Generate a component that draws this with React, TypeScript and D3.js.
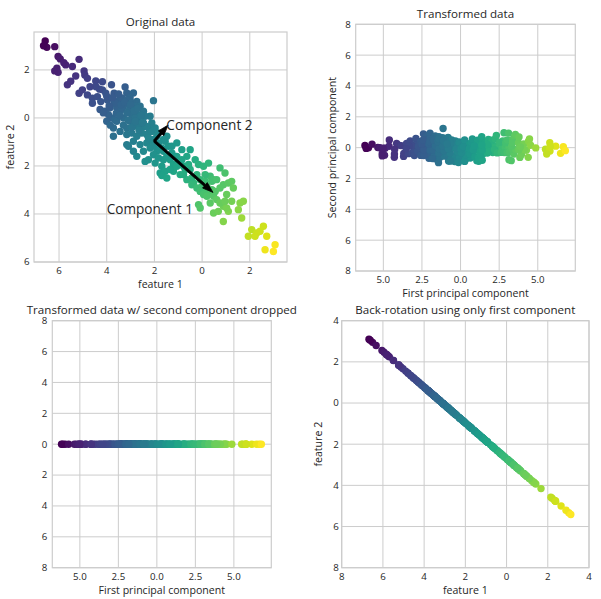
import React from 'react';
import * as d3 from 'd3';

const feature1 = [
  -6.58, -6.51, -6.65, -6.18, -6.04, -5.95, -5.72, -6.09, -6.04, -6.18,
  -5.44, -5.16, -4.95, -4.92, -4.81, -5.65, -5.51, -5.16, -5.02, -4.46,
  -4.18, -3.80, -4.81, -4.60, -4.39, -4.18, -4.04, -3.69, -4.60, -4.25,
  -3.97, -3.69, -4.28, -4.07, -3.86, -3.79, -3.72, -3.72, -4.00, -3.65,
  -3.58, -3.48, -3.23, -3.16, -2.88, -3.37, -3.02, -2.74, -2.60, -2.04,
  -3.30, -3.02, -2.88, -2.67, -2.46, -2.18, -3.58, -3.30, -3.02, -2.74,
  -3.44, -3.16, -2.53, -3.16, -2.88, -2.60, -2.88, -2.46, -2.46, -2.53,
  -2.32, -2.25, -1.90, -1.69, -1.55, -1.76, -1.97, -1.62, -3.37, -3.16,
  -2.95, -3.09, -2.95, -2.81, -2.88, -2.67, -3.16, -3.09, -2.95, -2.74,
  -2.32, -2.25, -2.11, -1.97, -1.83, -2.74, -2.39, -2.11, -1.97, -1.76,
  -1.62, -2.04, -1.83, -1.69, -1.55, -1.69, -3.65, -3.93, -4.14, -2.11,
  -1.90, -2.18, -1.48, -1.41, -1.27, -1.06, -0.85, -1.13, -1.34, -1.20,
  -0.99, -1.48, -1.20, -0.92, -1.34, -1.06, -0.78, -0.50, -0.22, -0.64,
  -0.50, -0.29, -0.15, 0.06, 0.27, -0.64, -0.36, -0.08, -0.71, -0.57,
  -0.78, -0.43, -0.43, -0.22, -0.01, 0.13, 0.20, 0.27, 0.34, 0.48,
  0.13, 0.06, 0.41, -0.08, 0.06, 0.20, -0.15, -0.08, 0.34, 0.41,
  0.48, 0.61, 0.55, 0.48, 0.68, 0.61, 0.75, 0.96, 0.89, 1.10,
  1.24, 0.75, 1.03, 0.89, 1.10, 1.24, 1.59, 1.52, 1.73, 1.66,
  0.89, 1.03, 1.31, 0.75, 0.96, 2.08, 2.29, 2.57, 2.22, 2.71,
  3.06, 2.64, 2.99, 1.94, 2.43, -2.60, -2.39, -2.81, -2.32, -2.25,
  -2.04, -1.83, -1.62, -1.48, -1.27, -1.06, -0.85,
  -4.30, -4.00, -3.90, -3.75, -3.60, -3.50, -3.45, -3.40, -3.30, -3.25,
  -3.15, -3.10, -3.00, -2.95, -2.85, -2.80, -2.70, -2.65, -2.55, -2.50,
  -4.45, -4.70, -5.30, -5.80, -3.85,
];
const feature2 = [
  3.21, 2.94, 3.01, 2.97, 2.56, 2.46, 2.21, 2.07, 1.90, 1.96,
  2.14, 2.44, 1.96, 1.79, 1.65, 1.38, 1.53, 1.03, 1.17, 1.54,
  1.51, 1.38, 0.96, 0.82, 0.89, 1.17, 1.03, 1.03, 0.61, 0.68,
  0.75, 0.61, 0.35, 0.28, 0.42, 0.00, -0.42, -0.76, -0.14, -0.07,
  0.42, 0.75, 1.29, 1.04, 1.04, 0.83, 0.83, 0.69, 0.49, 0.72,
  0.49, 0.42, 0.28, 0.14, 0.28, 0.07, -0.14, 0.00, -0.14, -0.14,
  -0.56, -0.42, -0.42, -1.11, -0.97, -1.11, -1.39, -1.39, -0.21, -0.63,
  -1.04, -1.74, -1.39, -1.25, -0.97, -2.29, -1.88, -1.74, 0.35, 0.76,
  0.63, 0.28, 0.14, 0.00, -0.35, -0.28, -0.69, -1.18, -0.63, -0.76,
  -0.69, -0.42, -0.56, -0.42, -0.63, -1.60, -1.81, -0.90, -1.18, -1.32,
  -0.90, -1.53, -1.67, -2.01, -2.22, -2.40, 0.63, 0.14, 0.21, -0.21,
  -0.76, -1.25, -0.76, -1.18, -1.18, -1.04, -1.32, -1.60, -1.74, -1.94,
  -1.81, -2.50, -2.22, -2.36, -2.15, -1.60, -2.01, -2.15, -2.36, -1.60,
  -1.32, -1.74, -1.94, -2.01, -1.88, -2.57, -2.71, -2.57, -2.15, -1.94,
  -2.36, -2.50, -2.78, -2.92, -2.85, -2.64, -2.85, -3.06, -2.43, -2.57,
  -2.36, -3.06, -2.99, -3.06, -3.19, -3.26, -3.61, -3.75, -3.54, -2.64,
  -3.26, -3.40, -3.06, -3.96, -3.89, -2.57, -2.08, -2.29, -2.78, -2.71,
  -2.64, -2.92, -3.19, -3.68, -3.89, -3.47, -3.54, -3.82, -3.47, -4.17,
  -4.31, -3.75, -2.92, -3.54, -3.47, -4.65, -4.79, -4.51, -4.93, -4.93,
  -5.28, -5.49, -5.56, -4.93, -4.72, 0.07, 0.07, 0.49, -0.35, -0.83,
  -1.04, -1.04, -1.39, -1.60, -1.46, -2.01, -1.74,
  1.20, 0.90, 0.50, 0.85, 0.20, 1.00, 0.10, 0.55, -0.30, 0.65,
  0.20, -0.10, 0.55, -0.40, 0.30, -0.15, 0.40, -0.50, 0.10, -0.20,
  1.30, 1.30, 1.75, 2.30, -0.30,
];

// Tick values
const origTicks = [-6, -4, -2, 0, 2];
const pcXTicks = [-5, -2.5, 0, 2.5, 5];
const pcYTicks = [-8, -6, -4, -2, 0, 2, 4, 6, 8];
const backTicks = [-8, -6, -4, -2, 0, 2, 4];

const FONT = "'Open Sans', 'Noto Sans', sans-serif";
const TEXT = '#262626';
const GRID = '#cccccc';

// PCA of the original data (as in the chart's construction)
function computePCA(xs: number[], ys: number[]) {
  const n = xs.length;
  const mx = d3.mean(xs) as number;
  const my = d3.mean(ys) as number;
  let sxx = 0, syy = 0, sxy = 0;
  for (let i = 0; i < n; i++) {
    const dx = xs[i] - mx, dy = ys[i] - my;
    sxx += dx * dx; syy += dy * dy; sxy += dx * dy;
  }
  sxx /= n - 1; syy /= n - 1; sxy /= n - 1;
  const tr = sxx + syy, det = sxx * syy - sxy * sxy;
  const l1 = tr / 2 + Math.sqrt(tr * tr / 4 - det);
  let v1 = [l1 - syy, sxy];
  const nv = Math.hypot(v1[0], v1[1]);
  v1 = [v1[0] / nv, v1[1] / nv];
  if (v1[0] < 0) v1 = [-v1[0], -v1[1]];
  let v2 = [-v1[1], v1[0]];
  if (v2[1] < 0) v2 = [-v2[0], -v2[1]];
  const pc1 = xs.map((x, i) => (x - mx) * v1[0] + (ys[i] - my) * v1[1]);
  const pc2 = xs.map((x, i) => (x - mx) * v2[0] + (ys[i] - my) * v2[1]);
  const s1 = Math.sqrt(d3.mean(pc1.map((v) => v * v)) as number);
  const s2 = Math.sqrt(d3.mean(pc2.map((v) => v * v)) as number);
  return { mx, my, v1, v2, pc1, pc2, s1, s2 };
}

type Box = { l: number; r: number; t: number; b: number };

interface PanelProps {
  box: Box;
  xDomain: [number, number];
  yDomain: [number, number];
  xTicks: number[];
  yTicks: number[];
  xFmt: (v: number) => string;
  yFmt: (v: number) => string;
  title: string;
  xlabel: string;
  ylabel?: string;
  xs: number[];
  ys: number[];
  colors: string[];
  yTickPad?: number;
  children?: (x: d3.ScaleLinear<number, number>, y: d3.ScaleLinear<number, number>) => React.ReactNode;
}

function Panel(p: PanelProps) {
  const x = d3.scaleLinear().domain(p.xDomain).range([p.box.l, p.box.r]);
  const y = d3.scaleLinear().domain(p.yDomain).range([p.box.b, p.box.t]);
  const cx = (p.box.l + p.box.r) / 2;
  const cy = (p.box.t + p.box.b) / 2;
  const pad = p.yTickPad ?? 5;
  const clipId = 'clip' + Math.round(p.box.l) + '_' + Math.round(p.box.t);
  return (
    <g>
      <defs>
        <clipPath id={clipId}>
          <rect x={p.box.l} y={p.box.t} width={p.box.r - p.box.l} height={p.box.b - p.box.t} />
        </clipPath>
      </defs>
      <rect x={p.box.l} y={p.box.t} width={p.box.r - p.box.l} height={p.box.b - p.box.t} fill="#fff" />
      {p.xTicks.map((t) => (
        <line key={'gx' + t} x1={x(t)} x2={x(t)} y1={p.box.t} y2={p.box.b} stroke={GRID} strokeWidth={1} />
      ))}
      {p.yTicks.map((t) => (
        <line key={'gy' + t} x1={p.box.l} x2={p.box.r} y1={y(t)} y2={y(t)} stroke={GRID} strokeWidth={1} />
      ))}
      <g clipPath={`url(#${clipId})`}>
        {p.xs.map((v, i) => (
          <circle key={i} cx={x(v)} cy={y(p.ys[i])} r={3.7} fill={p.colors[i]} />
        ))}
        {p.children ? p.children(x, y) : null}
      </g>
      <rect x={p.box.l} y={p.box.t} width={p.box.r - p.box.l} height={p.box.b - p.box.t} fill="none" stroke={GRID} strokeWidth={1.2} />
      {p.xTicks.map((t) => (
        <text key={'tx' + t} x={x(t)} y={p.box.b + 12} textAnchor="middle" fontSize={9.7} fill={TEXT}>
          {p.xFmt(t)}
        </text>
      ))}
      {p.yTicks.map((t) => (
        <text key={'ty' + t} x={p.box.l - pad} y={y(t)} dy="0.35em" textAnchor="end" fontSize={9.7} fill={TEXT}>
          {p.yFmt(t)}
        </text>
      ))}
      <text x={cx} y={p.box.t - 6.5} textAnchor="middle" fontSize={11.6} fill={TEXT}>{p.title}</text>
      <text x={cx} y={p.box.b + 26} textAnchor="middle" fontSize={10.6} fill={TEXT}>{p.xlabel}</text>
      {p.ylabel ? (
        <text transform={`translate(${p.box.l - 20},${cy}) rotate(-90)`} textAnchor="middle" fontSize={10.6} fill={TEXT}>
          {p.ylabel}
        </text>
      ) : null}
    </g>
  );
}

function arrowPath(
  x: d3.ScaleLinear<number, number>,
  y: d3.ScaleLinear<number, number>,
  x0: number, y0: number, dx: number, dy: number,
) {
  const width = 0.1, hw = 0.3, hl = 0.45;
  const dist = Math.hypot(dx, dy);
  const len = dist + hl;
  const ux = dx / dist, uy = dy / dist;
  const px = -uy, py = ux;
  const tipX = x0 + ux * len, tipY = y0 + uy * len;
  const baseX = tipX - ux * hl, baseY = tipY - uy * hl;
  const pts: [number, number][] = [
    [x0 + px * width / 2, y0 + py * width / 2],
    [baseX + px * width / 2, baseY + py * width / 2],
    [baseX + px * hw / 2, baseY + py * hw / 2],
    [tipX, tipY],
    [baseX - px * hw / 2, baseY - py * hw / 2],
    [baseX - px * width / 2, baseY - py * width / 2],
    [x0 - px * width / 2, y0 - py * width / 2],
  ];
  const line = d3.line<[number, number]>().x((d) => x(d[0])).y((d) => y(d[1]));
  return line(pts) + 'Z';
}

export default function App() {
  const p = computePCA(feature1, feature2);
  const color = d3.scaleSequential(d3.interpolateViridis).domain(d3.extent(p.pc1) as [number, number]);
  const colors = p.pc1.map((v) => color(v));
  const zeros = p.pc1.map(() => 0);
  const invX = p.pc1.map((v) => p.mx + v * p.v1[0]);
  const invY = p.pc1.map((v) => p.my + v * p.v1[1]);
  const intFmt = (v: number) => String(Math.abs(v));
  const decFmt = (v: number) => Math.abs(v).toFixed(1);

  return (
    <svg width={601} height={599} style={{ position: 'absolute', left: 0, top: 0, fontFamily: FONT }}>
      <rect width={601} height={599} fill="#fff" />
      <Panel
        box={{ l: 34, r: 287, t: 32, b: 262 }}
        xDomain={[-7.05, 3.56]}
        yDomain={[-6.0, 3.58]}
        xTicks={origTicks}
        yTicks={origTicks}
        xFmt={intFmt}
        yFmt={intFmt}
        title="Original data"
        xlabel="feature 1"
        ylabel="feature 2"
        xs={feature1}
        ys={feature2}
        colors={colors}
        yTickPad={4.5}
      >
        {(x, y) => (
          <g>
            <path d={arrowPath(x, y, p.mx, p.my, p.s1 * p.v1[0], p.s1 * p.v1[1])} fill="#000" stroke="#000" strokeWidth={0.8} />
            <path d={arrowPath(x, y, p.mx, p.my, p.s2 * p.v2[0], p.s2 * p.v2[1])} fill="#000" stroke="#000" strokeWidth={0.8} />
            <text x={x(-1.5)} y={y(-0.5)} fontSize={13.6} fill={TEXT}>Component 2</text>
            <text x={x(-4)} y={y(-4)} fontSize={13.6} fill={TEXT}>Component 1</text>
          </g>
        )}
      </Panel>
      <Panel
        box={{ l: 355.7, r: 575.3, t: 24.3, b: 271 }}
        xDomain={[-6.79, 7.43]}
        yDomain={[-8, 8]}
        xTicks={pcXTicks}
        yTicks={pcYTicks}
        xFmt={decFmt}
        yFmt={intFmt}
        title="Transformed data"
        xlabel="First principal component"
        ylabel="Second principal component"
        xs={p.pc1}
        ys={p.pc2}
        colors={colors}
      />
      <Panel
        box={{ l: 52.3, r: 271.3, t: 320.7, b: 567.7 }}
        xDomain={[-6.79, 7.43]}
        yDomain={[-8, 8]}
        xTicks={pcXTicks}
        yTicks={pcYTicks}
        xFmt={decFmt}
        yFmt={intFmt}
        title="Transformed data w/ second component dropped"
        xlabel="First principal component"
        xs={p.pc1}
        ys={zeros}
        colors={colors}
      />
      <Panel
        box={{ l: 341.7, r: 589, t: 320.7, b: 567.7 }}
        xDomain={[-8, 4]}
        yDomain={[-8, 4]}
        xTicks={backTicks}
        yTicks={backTicks}
        xFmt={intFmt}
        yFmt={intFmt}
        title="Back-rotation using only first component"
        xlabel="feature 1"
        ylabel="feature 2"
        xs={invX}
        ys={invY}
        colors={colors}
        yTickPad={3}
      />
    </svg>
  );
}
